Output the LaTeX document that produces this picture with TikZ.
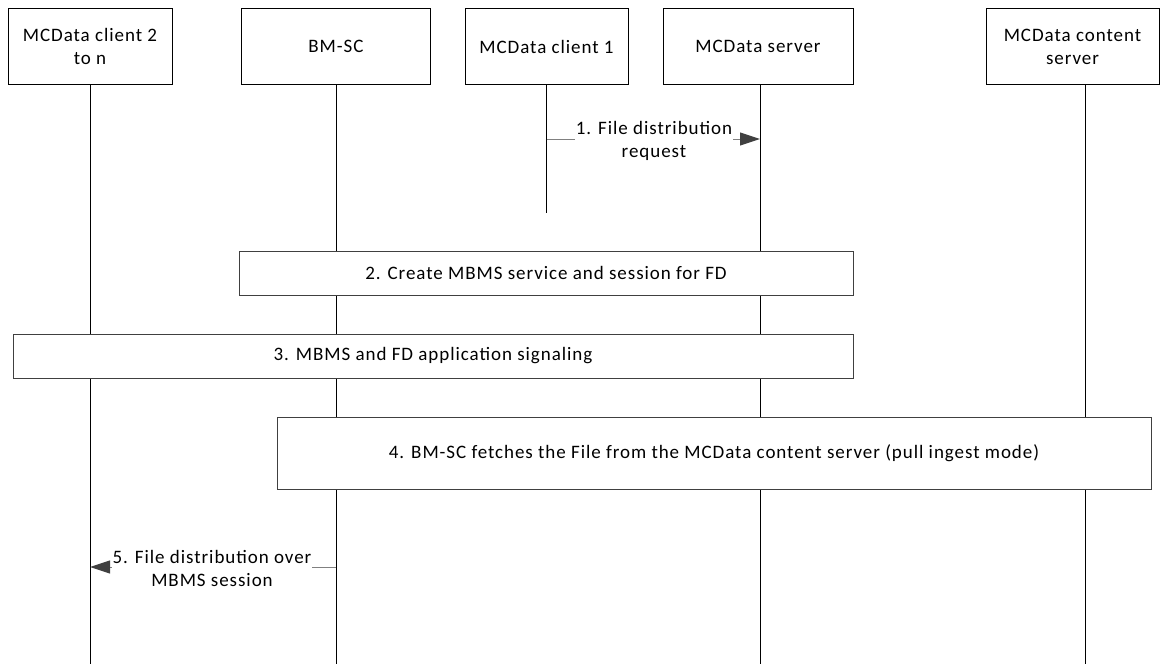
\documentclass[tikz,border=0pt]{standalone}
\usepackage{fontspec}
\setmainfont{Carlito}[LetterSpace=5]
\usetikzlibrary{arrows.meta}
\begin{document}
\begin{tikzpicture}[x=1pt,y=-1pt, font=\fontsize{19}{23}\selectfont,
 hdr/.style={draw=black, line width=0.9pt, fill=white, align=center, inner sep=0pt, minimum height=76pt},
 life/.style={draw=black, line width=0.9pt},
 stepbox/.style={draw=black!75, line width=1pt, fill=white, inner sep=0pt},
 msg/.style={draw=black!50, line width=1pt, -{Triangle[length=20pt,width=13pt,color=black!75]}},
 lbl/.style={fill=white, align=center, inner sep=1pt}]
\useasboundingbox (0,0) rectangle (1169,664);
% headers
\node[hdr, minimum width=164pt] (c2) at (90,46.5) {MCData client 2\\to n};
\node[hdr, minimum width=189pt] (bm) at (336,46.5) {BM-SC};
\node[hdr, minimum width=163pt] (c1) at (546.5,46.5) {MCData client 1};
\node[hdr, minimum width=190pt] (srv) at (758,46.5) {MCData server};
\node[hdr, minimum width=173pt] (cs) at (1072.5,46.5) {MCData content\\server};
% lifeline ends
\coordinate (c2e) at (90,664);
\coordinate (bme) at (336,664);
\coordinate (c1e) at (546.5,213);
\coordinate (srve) at (760,664);
\coordinate (cse) at (1085,664);
\draw[life] (c2.south) -- (c2e);
\draw[life] (bm.south) -- (bme);
\draw[life] (c1.south) -- (c1e);
\draw[life] (srve |- srv.south) -- (srve);
\draw[life] (cse |- cs.south) -- (cse);
% step boxes
\node[stepbox, minimum width=614pt, minimum height=44pt] (s2) at (546,273) {2. Create MBMS service and session for FD};
\node[stepbox, minimum width=840pt, minimum height=44pt] (s3) at (433,356) {3. MBMS and FD application signaling};
\node[stepbox, minimum width=874pt, minimum height=72pt] (s4) at (714,453) {4. BM-SC fetches the File from the MCData content server (pull ingest mode)};
% messages
\coordinate (m1) at (0,139);
\coordinate (m5) at (0,567);
\draw[msg] (c1 |- m1) -- (srve |- m1);
\node[lbl] (l1) at (654,141) {1. File distribution\\request};
\draw[msg] (bm |- m5) -- (c2 |- m5);
\node[lbl] (l5) at (212,568) {5. File distribution over\\MBMS session};
\end{tikzpicture}
\end{document}
